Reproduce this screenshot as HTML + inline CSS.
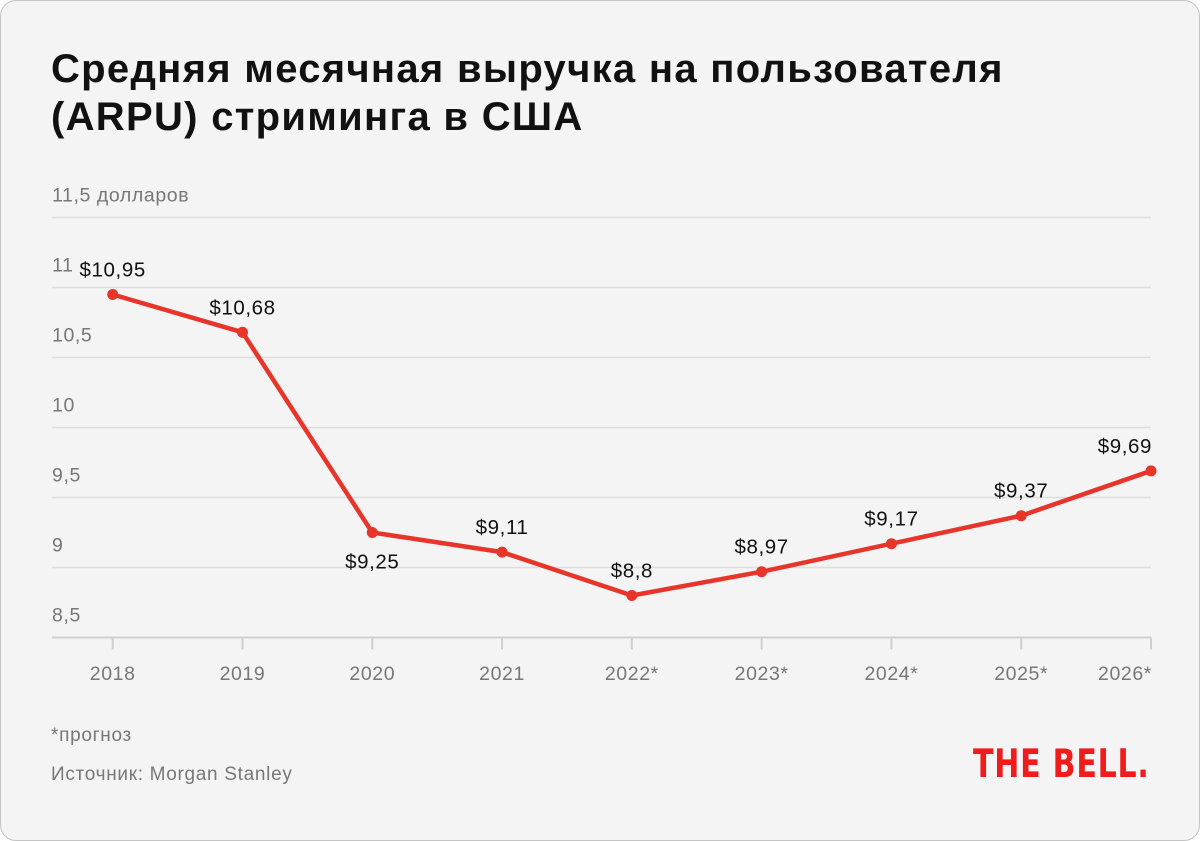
<!DOCTYPE html>
<html><head><meta charset="utf-8"><style>
html,body{margin:0;padding:0;background:#fff;}
#card{position:absolute;left:0;top:0;width:1198px;height:839px;background:#f4f4f4;border:1px solid #c4c4c4;border-radius:16px;overflow:hidden;font-family:"Liberation Sans","DejaVu Sans",sans-serif;}
#title{position:absolute;left:50px;top:44px;font-size:40px;font-weight:bold;line-height:48px;color:#111;margin:0;letter-spacing:1.3px;white-space:nowrap;}
.note{position:absolute;left:50px;font-size:19px;color:#777;letter-spacing:0.7px;white-space:nowrap;}
#logo{position:absolute;left:972px;top:741px;font-size:39px;font-weight:900;color:#f01c1c;letter-spacing:1px;font-family:"DejaVu Sans","Liberation Sans",sans-serif;white-space:nowrap;transform:scaleX(0.77);transform-origin:left top;}
svg{position:absolute;left:0;top:0;}
text{letter-spacing:0.6px;}
</style></head><body>
<div id="card">
<h1 id="title">Средняя месячная выручка на пользователя<br>(ARPU) стриминга в США</h1>
<svg id="chart" width="1200" height="841"></svg>
<div class="note" style="top:724px">*прогноз</div>
<div class="note" style="top:763px">Источник: Morgan Stanley</div>
<div id="logo">THE BELL.</div>
</div>
<script>
const categories=["2018","2019","2020","2021","2022*","2023*","2024*","2025*","2026*"];
const values=[10.95,10.68,9.25,9.11,8.8,8.97,9.17,9.37,9.69];
const valueLabels=["$10,95","$10,68","$9,25","$9,11","$8,8","$8,97","$9,17","$9,37","$9,69"];
const yTicks=[8.5,9,9.5,10,10.5,11,11.5];
const yTickLabels=["8,5","9","9,5","10","10,5","11","11,5 долларов"];
const labelBelow=[false,false,true,false,false,false,false,false,false];
const NS="http://www.w3.org/2000/svg";
const svg=document.getElementById('chart');
const x0=111.7,x1=1150,yBase=636.5,pxPerUnit=140;
function xScale(i){return x0+(x1-x0)*i/(categories.length-1);}
function yScale(v){return yBase-(v-8.5)*pxPerUnit;}
function mk(tag,attrs){const e=document.createElementNS(NS,tag);for(const k in attrs)e.setAttribute(k,attrs[k]);svg.appendChild(e);return e;}
yTicks.forEach((t,i)=>{
  const l=mk('line',{x1:51,x2:1150,y1:yScale(t),y2:yScale(t),stroke:i===0?'#d0d0d0':'#dedede','stroke-width':i===0?2:1.5});
  
  
  const tx=mk('text',{x:51,y:yScale(t)-16,'font-size':19.5,fill:'#777','font-family':'Liberation Sans, sans-serif'});
  tx.textContent=yTickLabels[i];
  
  
});
categories.forEach((c,i)=>{
  const tk=mk('line',{x1:xScale(i),x2:xScale(i),y1:yBase,y2:yBase+12,stroke:'#cfcfcf','stroke-width':2});
  
  
  const tx=mk('text',{x:xScale(i),y:679,'font-size':19.5,fill:'#777','text-anchor':i===categories.length-1?'end':'middle','font-family':'Liberation Sans, sans-serif'});
  if(i===categories.length-1)tx.setAttribute('x',xScale(i)+1);
  tx.textContent=c;
  
  
});
const pts=values.map((v,i)=>xScale(i)+','+yScale(v)).join(' ');
const line=mk('polyline',{points:pts,fill:'none',stroke:'#e8352a','stroke-width':4.5,'stroke-linejoin':'round'});


values.forEach((v,i)=>{
  const c=mk('circle',{cx:xScale(i),cy:yScale(v),r:5.5,fill:'#e8352a'});
  
  
  const last=i===values.length-1;
  const tx=mk('text',{x:last?xScale(i)+1:xScale(i),y:labelBelow[i]?yScale(v)+36:yScale(v)-18,'font-size':20.5,fill:'#111','text-anchor':last?'end':'middle','font-family':'Liberation Sans, sans-serif'});
  tx.textContent=valueLabels[i];
  
  
});
</script>
</body></html>
